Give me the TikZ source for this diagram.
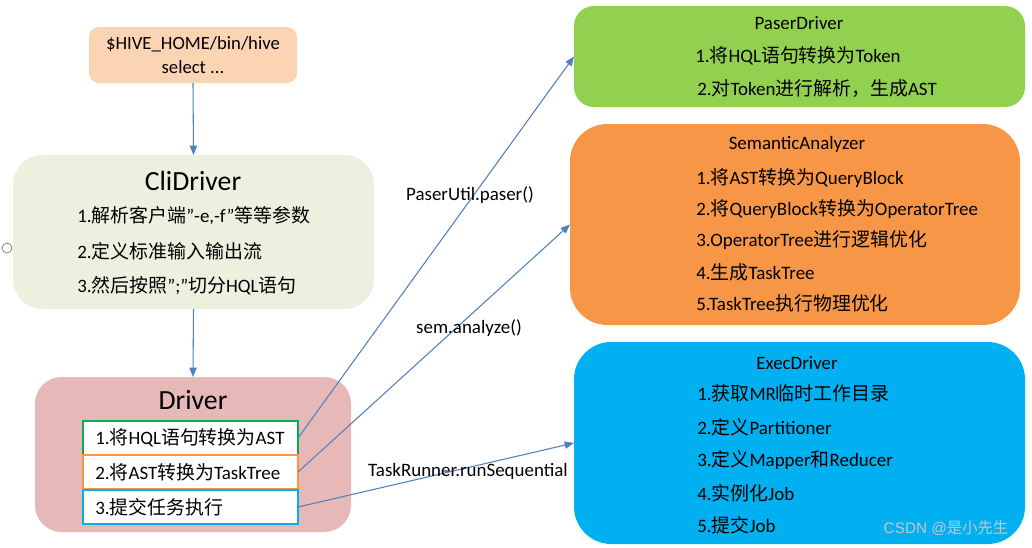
\documentclass[tikz,border=0pt]{standalone}
\usepackage{fontspec}
\setmainfont{Carlito}
\newfontfamily\cjk{Noto Sans CJK SC}
\newfontfamily\wmfont{Liberation Sans}
\newcommand\zh[1]{{\cjk #1}}
\usetikzlibrary{arrows.meta}
\definecolor{hivec}{HTML}{FBD4B4}
\definecolor{clic}{HTML}{EBF1DE}
\definecolor{drvc}{HTML}{E6B9B8}
\definecolor{pdc}{HTML}{92D050}
\definecolor{sac}{HTML}{F79646}
\definecolor{exc}{HTML}{00B0F0}
\definecolor{grn}{HTML}{00B050}
\definecolor{arr}{HTML}{4F81BD}
\tikzset{
  bigbox/.style={inner sep=0pt, outer sep=0pt, draw=none},
  sub/.style={draw, line width=1.5pt, fill=white, minimum width=161.25pt, minimum height=25.5pt, inner sep=0pt, outer sep=0pt},
  itm/.style={anchor=west, inner sep=0pt, font=\fontsize{14.2pt}{17pt}\selectfont},
  ditm/.style={anchor=west, inner sep=0pt, font=\fontsize{14.2pt}{17pt}\selectfont},
  ttl/.style={inner sep=0pt, font=\fontsize{14.2pt}{17pt}\selectfont},
  bttl/.style={inner sep=0pt, font=\fontsize{20.8pt}{25pt}\selectfont},
  lbl/.style={inner sep=0pt, font=\fontsize{14.2pt}{17pt}\selectfont},
  conn/.style={draw=arr, line width=0.8pt, -{Triangle[length=7pt,width=5.5pt]}},
}
\begin{document}
\begin{tikzpicture}[x=0.75pt,y=-0.75pt]
\path[use as bounding box] (0,0) rectangle (1032,547);
% left column
\node[bigbox, fill=hivec, rounded corners=7.5pt, minimum width=156pt, minimum height=42pt] (hive) at (193,55) {};
\node[inner sep=0pt, align=center, font=\fontsize{14pt}{18.5pt}\selectfont] (hivet) at (193,55) {\$HIVE\_HOME/bin/hive\\select ...};
\node[bigbox, fill=clic, rounded corners=22pt, minimum width=270.75pt, minimum height=115.5pt] (cli) at (193.5,232) {};
\node[bttl] (clit) at (193,181) {CliDriver};
\node[itm] (cli1) at (77,216) {1.\zh{解析客户端}”-e,-f”\zh{等等参数}};
\node[itm] (cli2) at (77,251) {2.\zh{定义标准输入输出流}};
\node[itm] (cli3) at (77,286) {3.\zh{然后按照}”;”\zh{切分}HQL\zh{语句}};
\node[bigbox, fill=drvc, rounded corners=20pt, minimum width=237pt, minimum height=116.25pt] (drv) at (193,454.5) {};
\node[bttl] (drvt) at (193,400) {Driver};
\node[sub, draw=grn] (d1) at (190.5,438) {};
\node[sub, draw=sac] (d2) at (190.5,472) {};
\node[sub, draw=exc] (d3) at (190.5,507) {};
\node[ditm] (d1t) at (95,438) {1.\zh{将}HQL\zh{语句转换为}AST};
\node[ditm] (d2t) at (95,472) {2.\zh{将}AST\zh{转换为}TaskTree};
\node[ditm] (d3t) at (95,507) {3.\zh{提交任务执行}};
\node[circle, draw=gray, line width=0.6pt, minimum size=7.5pt, inner sep=0pt, fill=white] (dot) at (7,248) {};
\draw[conn] (hive.south) -- (cli.north);
\draw[conn] (cli.south) -- (drv.north);
% right column
\node[bigbox, fill=pdc, rounded corners=15pt, minimum width=338.25pt, minimum height=75.75pt] (pd) at (799.5,56.5) {};
\node[ttl] (pdt) at (799,23) {PaserDriver};
\node[itm] (pd1) at (695,56) {1.\zh{将}HQL\zh{语句转换为}Token};
\node[itm] (pd2) at (697,89) {2.\zh{对}Token\zh{进行解析，生成}AST};
\node[bigbox, fill=sac, rounded corners=28pt, minimum width=337.5pt, minimum height=150.75pt] (sa) at (795,224.5) {};
\node[ttl] (sat) at (797,144) {SemanticAnalyzer};
\node[itm] (sa1) at (696,178) {1.\zh{将}AST\zh{转换为}QueryBlock};
\node[itm] (sa2) at (696,209) {2.\zh{将}QueryBlock\zh{转换为}OperatorTree};
\node[itm] (sa3) at (696,240) {3.OperatorTree\zh{进行逻辑优化}};
\node[itm] (sa4) at (696,272) {4.\zh{生成}TaskTree};
\node[itm] (sa5) at (696,303) {5.TaskTree\zh{执行物理优化}};
\node[bigbox, fill=exc, rounded corners=28pt, minimum width=338.25pt, minimum height=151.5pt] (ex) at (799.5,443) {};
\node[ttl] (ext) at (797,363) {ExecDriver};
\node[itm] (ex1) at (697,393) {1.\zh{获取}MR\zh{临时工作目录}};
\node[itm] (ex2) at (697,427) {2.\zh{定义}Partitioner};
\node[itm] (ex3) at (697,460) {3.\zh{定义}Mapper\zh{和}Reducer};
\node[itm] (ex4) at (697,493) {4.\zh{实例化}Job};
\node[itm] (ex5) at (697,525) {5.\zh{提交}Job};
\node[inner sep=0pt, text=black!22, font=\wmfont\fontsize{11.5pt}{14pt}\selectfont] (wm) at (946,528) {CSDN @\zh{是小先生}};
% connectors
\draw[conn] (d1.east) -- (pd.west);
\draw[conn] (d2.east) -- (sa.west);
\draw[conn] (d3.east) -- (ex.west);
\node[lbl] (l1) at (470,195) {PaserUtil.paser()};
\node[lbl] (l2) at (469,328) {sem.analyze()};
\node[lbl] (l3) at (468,471) {TaskRunner.runSequential};
\end{tikzpicture}
\end{document}
